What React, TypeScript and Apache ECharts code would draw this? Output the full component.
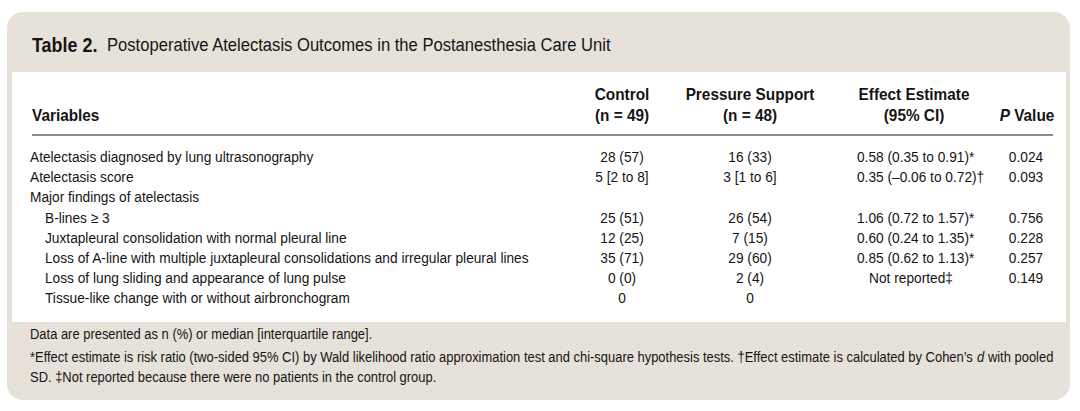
import React, { useEffect, useRef } from "react";
import * as echarts from "echarts";

const titleLabel = "Table 2.";
const titleText = "Postoperative Atelectasis Outcomes in the Postanesthesia Care Unit";
const headerVariables = "Variables";
const headerGroups = [
  ["Control", "(n = 49)"],
  ["Pressure Support", "(n = 48)"],
  ["Effect Estimate", "(95% CI)"],
];
const variables = [
  "Atelectasis diagnosed by lung ultrasonography",
  "Atelectasis score",
  "Major findings of atelectasis",
  "B-lines \u2265 3",
  "Juxtapleural consolidation with normal pleural line",
  "Loss of A-line with multiple juxtapleural consolidations and irregular pleural lines",
  "Loss of lung sliding and appearance of lung pulse",
  "Tissue-like change with or without airbronchogram",
];
const indentLevels = [0, 0, 0, 1, 1, 1, 1, 1];
const controlValues = ["28 (57)", "5 [2 to 8]", "", "25 (51)", "12 (25)", "35 (71)", "0 (0)", "0"];
const pressureSupportValues = ["16 (33)", "3 [1 to 6]", "", "26 (54)", "7 (15)", "29 (60)", "2 (4)", "0"];
const effectEstimates = [
  "0.58 (0.35 to 0.91)*",
  "0.35 (\u20130.06 to 0.72)\u2020",
  "",
  "1.06 (0.72 to 1.57)*",
  "0.60 (0.24 to 1.35)*",
  "0.85 (0.62 to 1.13)*",
  "Not reported\u2021",
  "",
];
const pValues = ["0.024", "0.093", "", "0.756", "0.228", "0.257", "0.149", ""];
const footnotes = [
  "Data are presented as n (%) or median [interquartile range].",
  "*Effect estimate is risk ratio (two-sided 95% CI) by Wald likelihood ratio approximation test and chi-square hypothesis tests. \u2020Effect estimate is calculated by Cohen\u2019s {it|d} with pooled",
  "SD. \u2021Not reported because there were no patients in the control group.",
];

const FONT = "'Liberation Sans', Arial, sans-serif";
const INK = "#161414";
const BEIGE = "#e6e2d9";

function measure(text: string, font: string) {
  const c = document.createElement("canvas").getContext("2d");
  if (!c) return text.length * 7;
  c.font = font;
  return c.measureText(text).width;
}

export default function App() {
  const ref = useRef<HTMLDivElement>(null);
  useEffect(() => {
    document.body.style.margin = "0";
    if (!ref.current) return;
    const chart = echarts.init(ref.current, undefined, { renderer: "svg" });

    const titleSize = 19;
    const bodySize = 15;
    const headSize = 16.8;
    const titleScale = 505 / measure(titleText, `${titleSize}px ${FONT}`);
    const bodyScale =
      (273 + 495) /
      (measure(variables[0], `${bodySize}px ${FONT}`) + measure(variables[5], `${bodySize}px ${FONT}`));
    const footPlain = footnotes[1].replace("{it|d}", "d");
    const footScale = 1023 / measure(footPlain, `${bodySize}px ${FONT}`);

    const txt = (
      x: number,
      y: number,
      text: string,
      opts: { size?: number; bold?: boolean; align?: string; scale?: number; rich?: any } = {}
    ) => ({
      type: "text",
      x,
      y,
      scaleX: opts.scale ?? bodyScale,
      style: {
        text,
        fontFamily: FONT,
        fontSize: opts.size ?? bodySize,
        fontWeight: opts.bold ? "bold" : "normal",
        fill: INK,
        textAlign: opts.align ?? "left",
        textVerticalAlign: "middle",
        rich: opts.rich,
      },
    });

    const elements: any[] = [];
    elements.push({
      type: "rect",
      shape: { x: 7, y: 12, width: 1063, height: 388, r: 16 },
      style: { fill: BEIGE },
    });
    elements.push({
      type: "rect",
      shape: { x: 12, y: 72, width: 1054, height: 250 },
      style: { fill: "#ffffff" },
    });
    elements.push(txt(32, 45, titleLabel, { size: 20.5, bold: true, scale: titleScale }));
    elements.push(txt(107, 45, titleText, { size: titleSize, scale: titleScale }));

    const colCenters = [622, 750, 914];
    headerGroups.forEach((g, i) => {
      elements.push(txt(colCenters[i], 94, g[0], { bold: true, align: "center", size: headSize }));
      elements.push(txt(colCenters[i], 115, g[1], { bold: true, align: "center", size: headSize }));
    });
    elements.push(txt(32, 115, headerVariables, { bold: true, size: headSize }));
    elements.push(
      txt(1027, 115, "{it|P} Value", {
        bold: true,
        align: "center",
        size: headSize,
        rich: {
          it: { fontStyle: "italic", fontWeight: "bold", fontFamily: FONT, fontSize: headSize, fill: INK },
        },
      })
    );
    elements.push({
      type: "line",
      shape: { x1: 32, y1: 135, x2: 1053, y2: 135 },
      style: { stroke: "#8a8a8a", lineWidth: 2 },
    });

    const rowY0 = 157;
    const rowStep = 20.1;
    variables.forEach((v, i) => {
      const y = rowY0 + i * rowStep;
      elements.push(txt(30 + indentLevels[i] * 15, y, v));
      if (controlValues[i]) elements.push(txt(colCenters[0], y, controlValues[i], { align: "center" }));
      if (pressureSupportValues[i])
        elements.push(txt(colCenters[1], y, pressureSupportValues[i], { align: "center" }));
      const e = effectEstimates[i];
      if (e) {
        if (/^[0-9]/.test(e)) elements.push(txt(857, y, e));
        else elements.push(txt(911, y, e, { align: "center" }));
      }
      if (pValues[i]) elements.push(txt(1026, y, pValues[i], { align: "center" }));
    });

    const footY = [334, 357, 377];
    footnotes.forEach((f, i) => {
      elements.push(
        txt(30, footY[i], f, {
          scale: footScale,
          rich: {
            it: { fontStyle: "italic", fontFamily: FONT, fontSize: bodySize, fill: INK },
          },
        })
      );
    });

    chart.setOption({
      animation: false,
      backgroundColor: "#ffffff",
      graphic: { elements },
    });
    return () => chart.dispose();
  }, []);
  return <div ref={ref} style={{ width: 1080, height: 411 }} />;
}
